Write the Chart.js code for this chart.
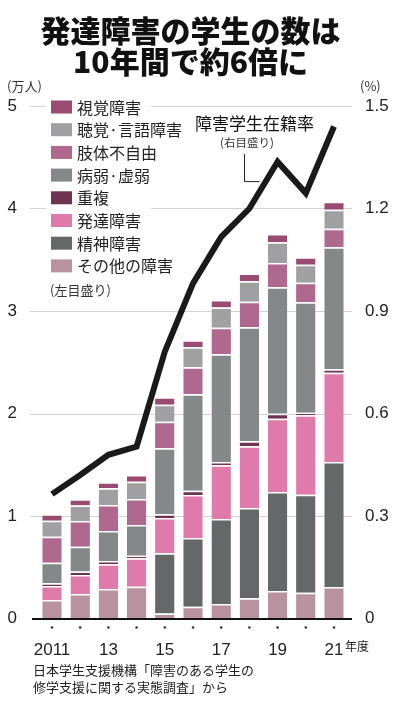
<!DOCTYPE html>
<html lang="ja">
<head>
<meta charset="utf-8">
<title>発達障害の学生の数は10年間で約6倍に</title>
<script src="https://cdn.jsdelivr.net/npm/chart.js@4.4.1/dist/chart.umd.min.js"></script>
<style>
    html, body { margin: 0; padding: 0; background: #fff; }
    canvas { display: block; }
</style>
</head>
<body>
<canvas id="chart" width="400" height="714"></canvas>
<script>
// ---- データ（単位：万人 / 在籍率は%） ----
const years = ["2011", "2012", "2013", "2014", "2015", "2016", "2017", "2018", "2019", "2020", "2021"];
const yearLabels = ["2011", "", "13", "", "15", "", "17", "", "19", "", "21"];
const leftTicks = ["0", "1", "2", "3", "4", "5"];
const rightTicks = ["0", "0.3", "0.6", "0.9", "1.2", "1.5"];

// 積み上げ順（下から）
const otherDis = [0.18, 0.24, 0.288, 0.31, 0.05, 0.115, 0.141, 0.197, 0.268, 0.252, 0.307];
const mental = [0, 0, 0, 0, 0.586, 0.67, 0.83, 0.881, 0.966, 0.956, 1.22];
const developmental = [0.137, 0.185, 0.241, 0.277, 0.344, 0.42, 0.523, 0.602, 0.715, 0.774, 0.871];
const multiple = [0.026, 0.033, 0.032, 0.026, 0.036, 0.042, 0.033, 0.049, 0.049, 0.026, 0.033];
const illness = [0.2, 0.243, 0.293, 0.299, 0.644, 0.94, 1.05, 1.112, 1.233, 1.077, 1.19];
const physical = [0.254, 0.251, 0.253, 0.254, 0.26, 0.264, 0.26, 0.25, 0.237, 0.191, 0.182];
const hearing = [0.156, 0.15, 0.163, 0.169, 0.166, 0.195, 0.196, 0.199, 0.202, 0.176, 0.186];
const visual = [0.063, 0.062, 0.059, 0.065, 0.072, 0.068, 0.074, 0.077, 0.081, 0.072, 0.077];

// 障害学生在籍率（%）
const rate = [0.364, 0.42, 0.479, 0.503, 0.781, 0.981, 1.117, 1.2, 1.337, 1.245, 1.44];

const JP = "'Noto Sans CJK JP', 'Noto Sans', sans-serif";
const NUM = "'Liberation Sans', Arial, sans-serif";

function barSet(label, data, color) {
    return {
        type: "bar",
        label: label,
        data: data,
        backgroundColor: color,
        borderColor: "#ffffff",
        borderWidth: { top: 1.5, right: 0, bottom: 0, left: 0 },
        borderSkipped: "start",
        yAxisID: "y",
        order: 1,
        barPercentage: 0.69,
        categoryPercentage: 1.0,
    };
}

// =============================================
// 装飾（タイトル・凡例・注記など）
// =============================================
const decor = {
    id: "decor",
    beforeDraw(chart) {
        const ctx = chart.ctx;
        const y = chart.scales.y;
        ctx.save();
        ctx.fillStyle = "#fff";
        ctx.fillRect(0, 0, chart.width, chart.height);
        // 目盛り線
        ctx.strokeStyle = "#d2d2d2";
        ctx.lineWidth = 1;
        for (let i = 1; i < leftTicks.length; i++) {
            const py = Math.round(y.getPixelForValue(i)) + 0.5;
            ctx.beginPath();
            ctx.moveTo(30, py);
            ctx.lineTo(352, py);
            ctx.stroke();
        }
        ctx.restore();
    },
    afterDraw(chart) {
        const ctx = chart.ctx;
        const x = chart.scales.x;
        const y = chart.scales.y;
        ctx.save();

        // タイトル
        ctx.fillStyle = "#111";
        ctx.textAlign = "center";
        ctx.textBaseline = "middle";
        ctx.font = "900 30px " + JP;
        ctx.fillText("発達障害の学生の数は", 190.5, 31);
        ctx.fillText("10年間で約6倍に", 190.5, 62);

        // 単位
        ctx.font = "13px " + JP;
        ctx.fillStyle = "#333";
        ctx.textAlign = "left";
        ctx.fillText("(万人)", 7, 86);
        ctx.fillText("(%)", 360, 86);

        // 凡例
        ctx.fillStyle = "#fff";
        ctx.fillRect(46, 97, 105, 204);
        const bars = chart.data.datasets.filter(function(d) { return d.type === "bar"; }).reverse();
        for (let i = 0; i < bars.length; i++) {
            const cy = 107 + i * 22.7;
            ctx.fillStyle = bars[i].backgroundColor;
            ctx.fillRect(51, cy - 6.5, 21, 13);
            ctx.fillStyle = "#222";
            ctx.font = "16px " + JP;
            ctx.fillText(bars[i].label, 77, cy + 0.5);
        }
        ctx.font = "13px " + JP;
        ctx.fillStyle = "#333";
        ctx.fillText("(左目盛り)", 50, 290);

        // 在籍率ラベルと引き出し線
        ctx.fillStyle = "#111";
        ctx.font = "17px " + JP;
        ctx.fillText("障害学生在籍率", 195, 124);
        ctx.font = "11.5px " + JP;
        ctx.fillStyle = "#333";
        ctx.fillText("(右目盛り)", 220, 143);
        const pts = chart.getDatasetMeta(0).data;
        const ex = (pts[7].x + pts[8].x) / 2;
        const ey = (pts[7].y + pts[8].y) / 2;
        ctx.strokeStyle = "#222";
        ctx.lineWidth = 1;
        ctx.beginPath();
        ctx.moveTo(244.5, 154);
        ctx.lineTo(244.5, ey - 3.5);
        ctx.lineTo(ex - 4, ey - 3.5);
        ctx.stroke();

        // 横軸
        const y0 = y.getPixelForValue(0);
        ctx.strokeStyle = "#111";
        ctx.lineWidth = 2;
        ctx.beginPath();
        ctx.moveTo(32, y0 + 0.5);
        ctx.lineTo(352, y0 + 0.5);
        ctx.stroke();
        ctx.fillStyle = "#333";
        for (let i = 0; i < years.length; i++) {
            ctx.beginPath();
            ctx.arc(x.getPixelForValue(i), 627.5, 1.3, 0, Math.PI * 2);
            ctx.fill();
        }
        ctx.fillStyle = "#222";
        ctx.font = "12px " + JP;
        ctx.fillText("年度", 345, 646);

        // 出典
        ctx.font = "13px " + JP;
        ctx.fillText("日本学生支援機構「障害のある学生の", 33, 670);
        ctx.fillText("修学支援に関する実態調査」から", 33, 687);
        ctx.restore();
    },
};

new Chart(document.getElementById("chart"), {
    data: {
        labels: years,
        datasets: [
            {
                type: "line",
                label: "障害学生在籍率",
                data: rate,
                yAxisID: "y1",
                borderColor: "#1a1a1a",
                borderWidth: 6,
                pointRadius: 0,
                tension: 0,
                fill: false,
                order: 0,
                borderJoinStyle: "miter",
            },
            barSet("その他の障害", otherDis, "#b8939f"),
            barSet("精神障害", mental, "#656869"),
            barSet("発達障害", developmental, "#e07aaa"),
            barSet("重複", multiple, "#70334f"),
            barSet("病弱·虚弱", illness, "#858889"),
            barSet("肢体不自由", physical, "#b0698e"),
            barSet("聴覚·言語障害", hearing, "#a0a0a2"),
            barSet("視覚障害", visual, "#9a4b71"),
        ],
    },
    options: {
        responsive: false,
        animation: false,
        layout: { padding: { top: 106, right: 0, bottom: 0, left: 0 } },
        plugins: {
            legend: { display: false },
            tooltip: { enabled: false },
        },
        scales: {
            x: {
                stacked: true,
                grid: { display: false },
                border: { display: false },
                afterFit: function(scale) { scale.height = 95.5; },
                ticks: {
                    autoSkip: false,
                    maxRotation: 0,
                    minRotation: 0,
                    padding: 14,
                    color: "#222",
                    font: { family: NUM, size: 17 },
                    callback: function(v, i) { return yearLabels[i]; },
                },
            },
            y: {
                stacked: true,
                position: "left",
                min: 0,
                max: 5,
                grid: { display: false },
                border: { display: false },
                afterFit: function(scale) { scale.width = 37.9; },
                ticks: {
                    stepSize: 1,
                    padding: 13,
                    color: "#222",
                    font: { family: NUM, size: 17 },
                    callback: function(v, i) { return leftTicks[i]; },
                },
            },
            y1: {
                position: "right",
                min: 0,
                max: 1.5,
                grid: { display: false },
                border: { display: false },
                afterFit: function(scale) { scale.width = 51.9; },
                ticks: {
                    stepSize: 0.3,
                    padding: 9,
                    color: "#222",
                    font: { family: NUM, size: 17 },
                    callback: function(v, i) { return rightTicks[i]; },
                },
            },
        },
    },
    plugins: [decor],
});
</script>
</body>
</html>
